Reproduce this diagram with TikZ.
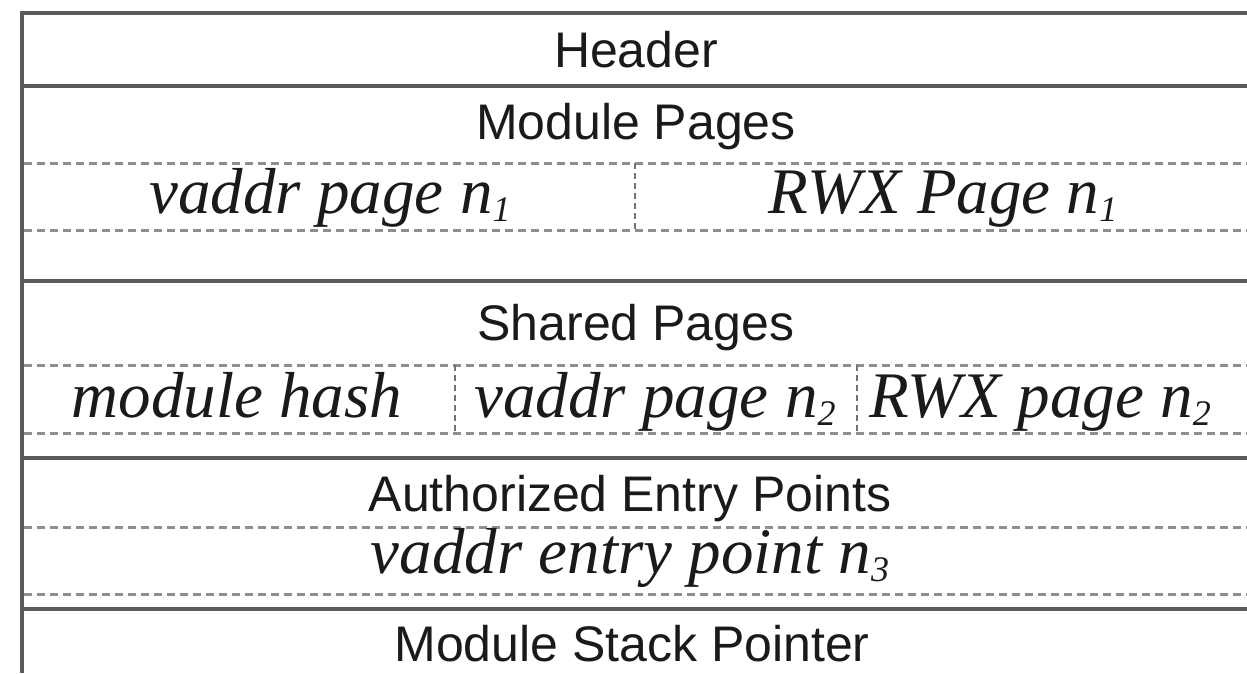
\documentclass[tikz,border=0pt]{standalone}
\usepackage{fontspec}
\setmainfont{Liberation Serif}
\setsansfont{Liberation Sans}
\definecolor{ruleGray}{HTML}{5A5A5A}
\definecolor{dashGray}{HTML}{8E8E8E}
\definecolor{sepGray}{HTML}{737373}
\definecolor{inkGray}{HTML}{1A1A1A}
% lowered, smaller index after a variable name
\newcommand{\nidx}[1]{\raisebox{-8pt}{\fontsize{36}{36}\selectfont #1}}
\begin{document}
\begin{tikzpicture}[x=1pt,y=-1pt,
  solidrule/.style={draw=ruleGray,line width=3.2pt},
  dashrule/.style={draw=dashGray,line width=3pt,dash pattern=on 8pt off 5pt},
  cellsep/.style={draw=sepGray,line width=1.8pt,dash pattern=on 6pt off 4pt},
  fieldname/.style={anchor=base,inner sep=0pt,text=inkGray,font=\sffamily\fontsize{50}{50}\selectfont},
  fieldval/.style={anchor=base,inner sep=0pt,text=inkGray,font=\itshape\fontsize{65}{65}\selectfont}]
\useasboundingbox (0,0) rectangle (1247,673);
\fill[white] (0,0) rectangle (1247,673);

% solid section borders
\draw[solidrule] (22,673) -- (22,13) -- (1260,13);
\foreach \yy in {86,281,458,609}
  \draw[solidrule] (22,\yy) -- (1260,\yy);

% dashed sub-rows
\foreach \yy in {163,230,365,433,527,594}
  \draw[dashrule] (24,\yy) -- (1260,\yy);

% dashed cell separators
\draw[cellsep] (635,163) -- (635,230);
\draw[cellsep] (455,365) -- (455,433);
\draw[cellsep] (857,365) -- (857,433);

% section titles
\node[fieldname] (hdr) at (636,67) {Header};
\node[fieldname] (modp) at (636,139) {Module Pages};
\node[fieldname] (shp) at (636,340) {Shared Pages};
\node[fieldname] (aep) at (630,511) {Authorized Entry Points};
\node[fieldname] (msp) at (632,661) {Module Stack Pointer};

% field contents
\node[fieldval] (vp1) at (330,213) {vaddr page n\nidx{1}};
\node[fieldval] (rwx1) at (943,213) {RWX Page n\nidx{1}};
\node[fieldval] (mh) at (237,417) {module hash};
\node[fieldval] (vp2) at (655,417) {vaddr page n\nidx{2}};
\node[fieldval] (rwx2) at (1040,417) {RWX page n\nidx{2}};
\node[fieldval] (vep) at (630,573) {vaddr entry point n\nidx{3}};
\end{tikzpicture}
\end{document}
